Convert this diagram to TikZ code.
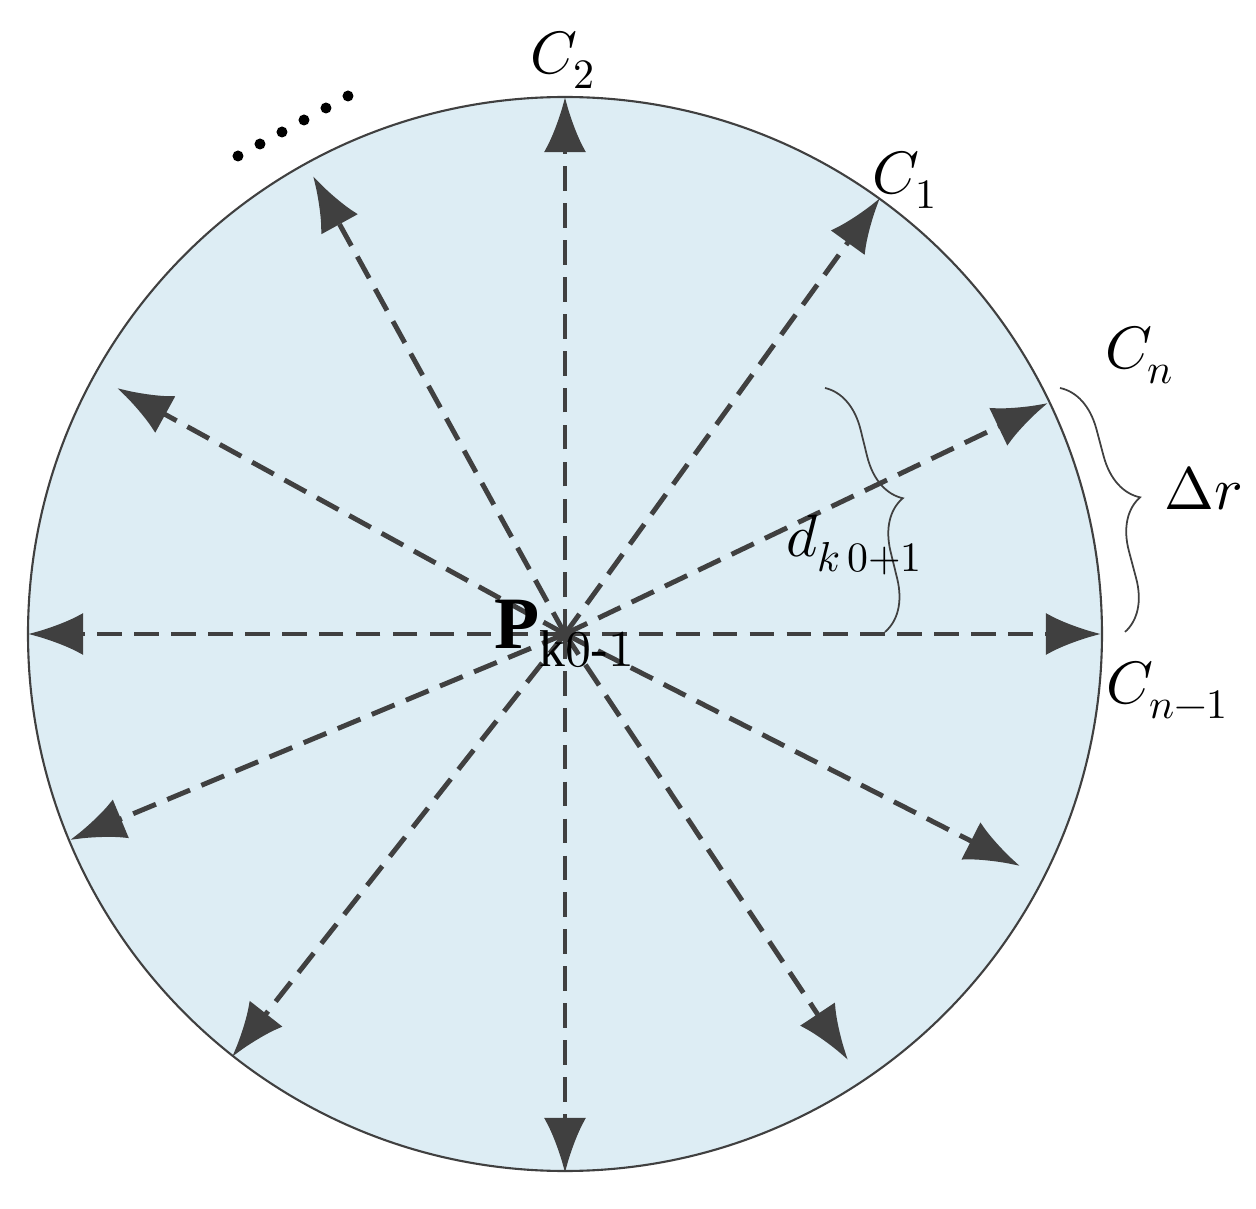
\documentclass[tikz,border=0pt]{standalone}
\usepackage{fontspec}
\setmainfont{Liberation Serif}
\usepackage{unicode-math}
\setmathfont{Latin Modern Math}
\usetikzlibrary{arrows.meta,decorations.pathreplacing}
\definecolor{fillb}{HTML}{DDEDF4}
\definecolor{arr}{HTML}{404040}
\tikzset{ray/.style={draw=arr,line width=1.4pt,dash pattern=on 7pt off 3.5pt,-{Latex[length=0.55cm,width=0.42cm]}},
lab/.style={font=\fontsize{17}{20}\selectfont,inner sep=0pt},
brc/.style={decorate,decoration={brace,amplitude=14pt},draw=arr,line width=0.5pt}}
\begin{document}
\begin{tikzpicture}[x=0.01cm,y=-0.01cm]
\useasboundingbox (0,0) rectangle (1256,1209);
\coordinate (O) at (565,634);
\draw[fill=fillb,draw=arr,line width=0.6pt] (O) circle[radius=537];
\foreach \n/\px/\py in {a/565/97,b/880/198,c/1048/403,d/1101/634,e/1020/866,f/848/1060,g/565/1173,h/232/1057,i/70/840,j/28/634,k/117/388,l/313/176}{
  \coordinate (\n) at (\px,\py);
  \draw[ray] (O) -- (\n);
}
\foreach \i in {0,...,5} \fill (238+\i*22,156-\i*12) coordinate (dot\i) circle[radius=5.5];
\draw[brc] (825,388) coordinate (b1s) -- (885,632) coordinate (b1e);
\draw[brc] (1060,388) coordinate (b2s) -- (1125,632) coordinate (b2e);
\node[lab] (C2) at (563,60) {$C_2$};
\node[lab] (C1) at (905,180) {$C_1$};
\node[lab] (Cn) at (1140,355) {$C_n$};
\node[lab] (Cn1) at (1168,690) {$C_{n-1}$};
\node[lab] (dr) at (1203,488) {$\Delta r$};
\node[lab] (dk) at (855,545) {$d_{k\,0+1}$};
\node[lab,font=\fontsize{21}{24}\selectfont] (P) at (565,634) {$\mathbf{P}_{\mathrm{k}0\text{-}1}$};
\end{tikzpicture}
\end{document}
